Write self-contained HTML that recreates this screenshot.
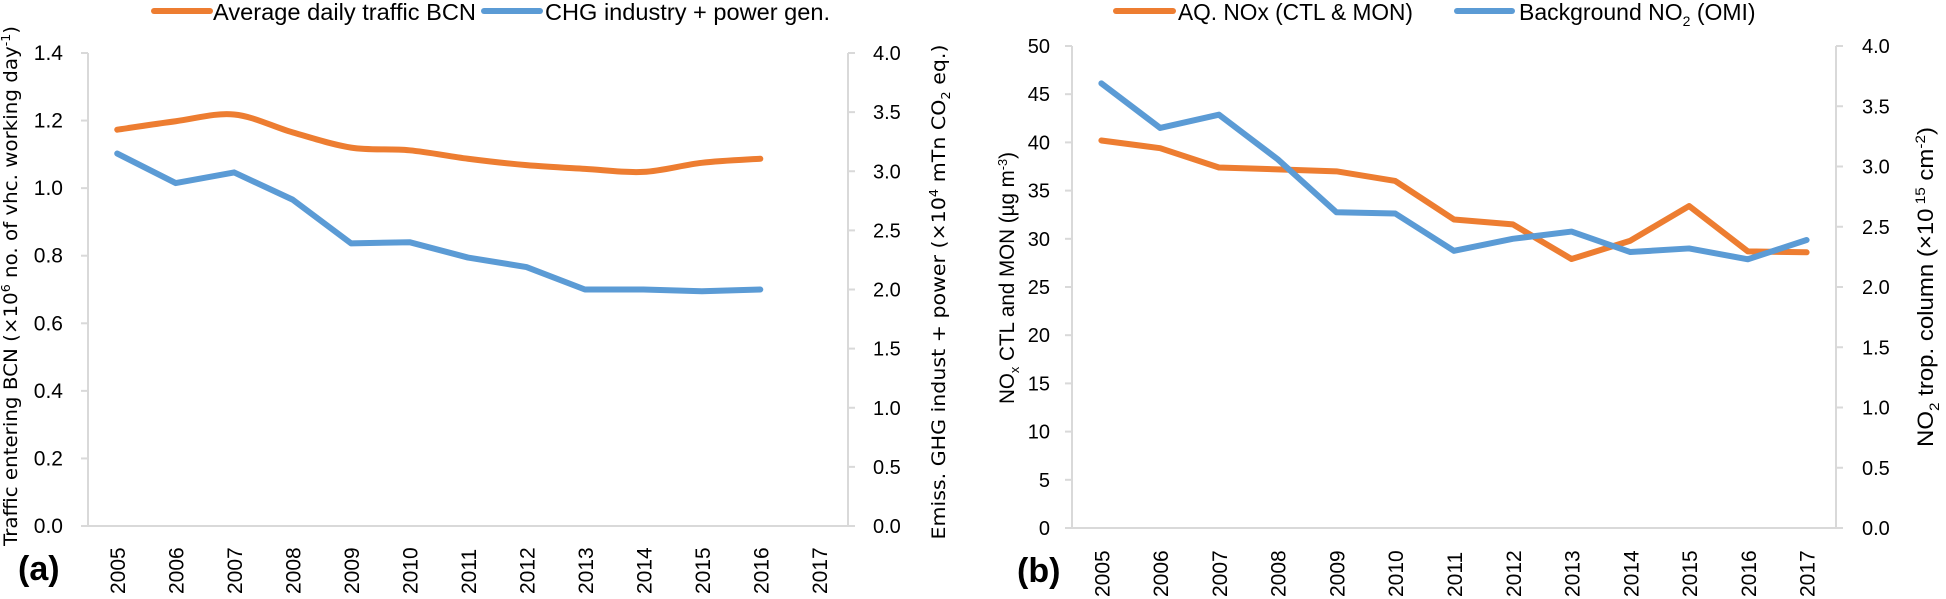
<!DOCTYPE html>
<html><head><meta charset="utf-8"><style>
html,body{margin:0;padding:0;background:#fff;}
svg{display:block;font-family:"Liberation Sans",sans-serif;}
.tk{font-size:21px;fill:#000;font-family:"Liberation Sans Narrow","Liberation Sans",sans-serif;}
.tkr{font-size:20px;fill:#000;}
.yr{font-size:21px;fill:#000;}
.lg{font-size:23px;fill:#000;font-family:"Liberation Sans Narrow","Liberation Sans",sans-serif;}
.ttl{font-size:19px;fill:#000;font-family:"DejaVu Sans","Liberation Sans",sans-serif;}
</style></head><body>
<svg id="chart" width="1946" height="599" viewBox="0 0 1946 599" xmlns="http://www.w3.org/2000/svg">
<g id="pa"></g>
<g id="pb"></g>
<g>
<line x1="154" y1="11" x2="210" y2="11" stroke="#ED7D31" stroke-width="6" stroke-linecap="round"/>
<text class="lg" x="213" y="20" textLength="263" lengthAdjust="spacingAndGlyphs">Average daily traffic BCN</text>
<line x1="484" y1="11" x2="540" y2="11" stroke="#5B9BD5" stroke-width="6" stroke-linecap="round"/>
<text class="lg" x="545" y="20" textLength="285" lengthAdjust="spacingAndGlyphs">CHG industry + power gen.</text>
</g>
<g>
<line x1="1116" y1="11" x2="1173" y2="11" stroke="#ED7D31" stroke-width="6" stroke-linecap="round"/>
<text class="lg" x="1178" y="20" textLength="235" lengthAdjust="spacingAndGlyphs">AQ. NOx (CTL &amp; MON)</text>
<line x1="1457" y1="11" x2="1512" y2="11" stroke="#5B9BD5" stroke-width="6" stroke-linecap="round"/>
<text class="lg" x="1519" y="20">Background NO<tspan font-size="14" dy="6">2</tspan><tspan dy="-6"> (OMI)</tspan></text>
</g>
<text x="18" y="580" font-size="34" font-weight="bold">(a)</text>
<text x="1017" y="582" font-size="34" font-weight="bold">(b)</text>
<text class="ttl" transform="translate(17,286) rotate(-90)" text-anchor="middle" textLength="520" lengthAdjust="spacingAndGlyphs">Traffic entering BCN (×10<tspan font-size="12" dy="-7">6</tspan><tspan dy="7"> no. of vhc. working day</tspan><tspan font-size="12" dy="-7">-1</tspan><tspan dy="7">)</tspan></text>
<text class="ttl" transform="translate(945,292) rotate(-90)" text-anchor="middle" textLength="495" lengthAdjust="spacingAndGlyphs">Emiss. GHG indust + power (×10<tspan font-size="12" dy="-7">4</tspan><tspan dy="7"> mTn CO</tspan><tspan font-size="12" dy="5">2</tspan><tspan dy="-5"> eq.)</tspan></text>
<text transform="translate(1014,278) rotate(-90)" text-anchor="middle" font-size="21" textLength="252" lengthAdjust="spacingAndGlyphs">NO<tspan font-size="13" dy="5">x</tspan><tspan dy="-5"> CTL and MON (µg m</tspan><tspan font-size="13" dy="-7">-3</tspan><tspan dy="7">)</tspan></text>
<text transform="translate(1933,287) rotate(-90)" text-anchor="middle" font-size="22" textLength="320" lengthAdjust="spacingAndGlyphs">NO<tspan font-size="14" dy="6">2</tspan><tspan dy="-6"> trop. column (×10</tspan><tspan font-size="14" dy="-8"> 15</tspan><tspan dy="8"> cm</tspan><tspan font-size="14" dy="-8">-2</tspan><tspan dy="8">)</tspan></text>
</svg>
<script>
const years = ["2005","2006","2007","2008","2009","2010","2011","2012","2013","2014","2015","2016","2017"];
const trafficA = [1.173,1.198,1.218,1.165,1.12,1.112,1.087,1.068,1.057,1.048,1.075,1.087];
const ghgA = [3.15,2.9,2.99,2.76,2.39,2.4,2.27,2.19,2.0,2.0,1.985,2.0];
const leftTicksA = ["0.0","0.2","0.4","0.6","0.8","1.0","1.2","1.4"];
const rightTicks = ["0.0","0.5","1.0","1.5","2.0","2.5","3.0","3.5","4.0"];
const noxB = [40.2,39.4,37.4,37.2,37.0,36.0,32.0,31.5,27.9,29.8,33.4,28.7,28.6];
const no2B = [3.69,3.32,3.43,3.06,2.62,2.61,2.30,2.40,2.46,2.29,2.32,2.23,2.39];
const leftTicksB = ["0","5","10","15","20","25","30","35","40","45","50"];

const NS="http://www.w3.org/2000/svg";
function mk(parent,tag,attrs){const e=document.createElementNS(NS,tag);for(const k in attrs)e.setAttribute(k,attrs[k]);parent.appendChild(e);return e;}

function panel(g,cfg){
  const {x0,x1,y0,y1,lmax,rmax,lt,rt,leftSeries,rightSeries,lx,rx,smoothL,name,yb,lcls}=cfg;
  const step=(x1-x0)/years.length;
  const xs=i=>x0+step*(i+0.5);
  const yl=v=>y0-(v/lmax)*(y0-y1);
  const yr=v=>y0-(v/rmax)*(y0-y1);
  const ax=mk(g,'path',{d:`M${x0},${y1}V${y0}H${x1}V${y1}`,fill:'none',stroke:'#d9d9d9','stroke-width':2});
  
  
  lt.forEach(t=>{
    const y=yl(parseFloat(t));
    mk(g,'line',{x1:x0-7,x2:x0,y1:y,y2:y,stroke:'#d9d9d9','stroke-width':2});
    const tx=mk(g,'text',{x:lx,y:y+7,'text-anchor':'end',class:lcls});tx.textContent=t;
    
    
  });
  rt.forEach(t=>{
    const y=yr(parseFloat(t));
    mk(g,'line',{x1:x1,x2:x1+7,y1:y,y2:y,stroke:'#d9d9d9','stroke-width':2});
    const tx=mk(g,'text',{x:rx,y:y+7,class:'tkr'});tx.textContent=t;
    
    
  });
  years.forEach((yrr,i)=>{
    const tx=mk(g,'text',{transform:`translate(${xs(i)+8},${yb}) rotate(-90)`,class:'yr'});tx.textContent=yrr;
    
    
  });
  function line(vals,fy,color,nm,smooth){
    const pts=vals.map((v,i)=>[xs(i),fy(v)]);
    let d='M'+pts[0].join(',');
    if(smooth){
      for(let i=0;i<pts.length-1;i++){
        const p0=pts[i-1]||pts[i],p1=pts[i],p2=pts[i+1],p3=pts[i+2]||p2;
        const c1=[p1[0]+(p2[0]-p0[0])/6,p1[1]+(p2[1]-p0[1])/6];
        const c2=[p2[0]-(p3[0]-p1[0])/6,p2[1]-(p3[1]-p1[1])/6];
        d+=`C${c1.join(',')} ${c2.join(',')} ${p2.join(',')}`;
      }
    } else pts.slice(1).forEach(p=>d+='L'+p.join(','));
    const pth=mk(g,'path',{d,fill:'none',stroke:color,'stroke-width':6,'stroke-linecap':'round','stroke-linejoin':'round'});
    
    
  }
  line(leftSeries,yl,'#ED7D31',name+'-orange-line',smoothL);
  line(rightSeries,yr,'#5B9BD5',name+'-blue-line',false);
}
panel(document.getElementById('pa'),{x0:88,x1:848,y0:526,y1:53,lmax:1.4,rmax:4,lt:leftTicksA,rt:rightTicks,leftSeries:trafficA,rightSeries:ghgA,lx:63,rx:873,smoothL:true,name:'panel-a',yb:594,lcls:'tk'});
panel(document.getElementById('pb'),{x0:1072,x1:1836,y0:528,y1:46,lmax:50,rmax:4,lt:leftTicksB,rt:rightTicks,leftSeries:noxB,rightSeries:no2B,lx:1050,rx:1862,smoothL:false,name:'panel-b',yb:597,lcls:'tkr'});
</script>
</body></html>
